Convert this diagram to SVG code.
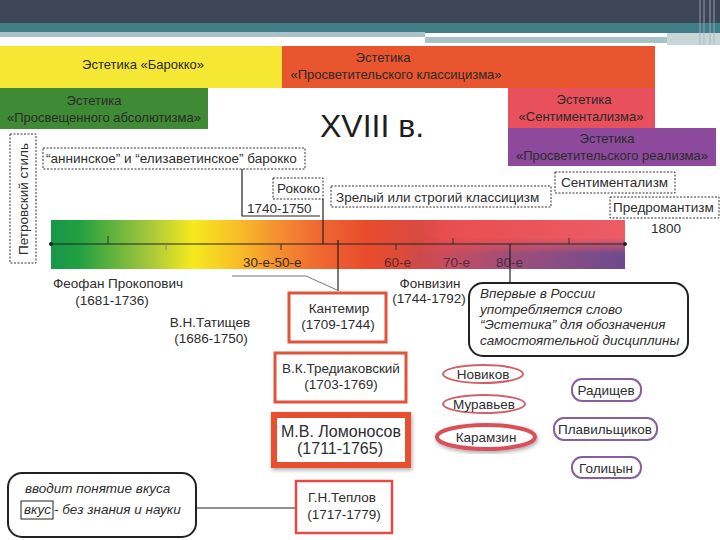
<svg xmlns="http://www.w3.org/2000/svg" width="720" height="540" viewBox="0 0 720 540">
<style>
text{font-family:"Liberation Sans",Arial,sans-serif;fill:#2e2e2e}
.hd{font-size:13px;text-anchor:middle;fill:#2a2a2a}
.lb{font-size:13.5px}
.mid{text-anchor:middle}
.it{font-style:italic;font-size:13.5px}
.dash{fill:none;stroke:#333;stroke-width:1;stroke-dasharray:2 1.5}
.ln{stroke:#222;stroke-width:1.2;fill:none}
.thin{stroke:#777;stroke-width:1;fill:none}
.rbox{fill:#fff;stroke:#e0553a;stroke-width:3}
.ell{fill:#fff;stroke:#d0606a;stroke-width:2}
.pur{fill:#fff;stroke:#8a5e9e;stroke-width:2}
.rr{fill:#fff;stroke:#222;stroke-width:2}
</style>
<defs>
<linearGradient id="bar" x1="51" y1="0" x2="625" y2="0" gradientUnits="userSpaceOnUse">
<stop offset="0" stop-color="#16974a"/>
<stop offset="0.05" stop-color="#22a040"/>
<stop offset="0.172" stop-color="#a6c83a"/>
<stop offset="0.247" stop-color="#f6ea1e"/>
<stop offset="0.328" stop-color="#f8bc28"/>
<stop offset="0.394" stop-color="#f59030"/>
<stop offset="0.462" stop-color="#f06a32"/>
<stop offset="0.549" stop-color="#e84c2c"/>
<stop offset="0.643" stop-color="#d94a42"/>
<stop offset="0.686" stop-color="#e84e4e"/>
<stop offset="1" stop-color="#ec5c66"/>
</linearGradient>
<linearGradient id="purp" x1="400" y1="0" x2="625" y2="0" gradientUnits="userSpaceOnUse">
<stop offset="0" stop-color="#6c4a8e" stop-opacity="0"/>
<stop offset="0.24" stop-color="#6c4a8e" stop-opacity="0.3"/>
<stop offset="0.49" stop-color="#6c4a8e" stop-opacity="0.6"/>
<stop offset="1" stop-color="#6c4a8e" stop-opacity="1"/>
</linearGradient>
<linearGradient id="vfade" x1="0" y1="238" x2="0" y2="254" gradientUnits="userSpaceOnUse">
<stop offset="0" stop-color="#000"/>
<stop offset="1" stop-color="#fff"/>
</linearGradient>
<mask id="lower"><rect x="380" y="230" width="260" height="45" fill="url(#vfade)"/></mask>
<filter id="sh" x="-20%" y="-20%" width="140%" height="140%">
<feGaussianBlur in="SourceAlpha" stdDeviation="2"/>
<feOffset dx="1" dy="2"/>
<feComponentTransfer><feFuncA type="linear" slope="0.35"/></feComponentTransfer>
<feMerge><feMergeNode/><feMergeNode in="SourceGraphic"/></feMerge>
</filter>
</defs>
<rect width="720" height="540" fill="#fff"/>
<g id="header">
<rect x="0" y="0" width="720" height="24" fill="#3e4557"/>
<rect x="0" y="23" width="720" height="10" fill="#3f7e87"/>
<rect x="0" y="32" width="425" height="5" fill="#a7c2c9"/>
<rect x="425" y="37" width="242" height="6" fill="#a7c2c9"/>
<rect x="667" y="33" width="53" height="12" fill="#c8d6da"/>
<g stroke="#a9b1c0" stroke-width="1" opacity="0.8">
<line x1="700" y1="0" x2="700" y2="45"/><line x1="704" y1="0" x2="704" y2="45"/>
<line x1="710" y1="0" x2="710" y2="45"/><line x1="714" y1="0" x2="714" y2="45"/>
</g>
</g>
<g id="baroque">
<rect x="0" y="46" width="282" height="42" fill="#f6e735"/>
<text class="hd" x="143" y="69">Эстетика «Барокко»</text>
</g>
<g id="classicism">
<rect x="282" y="46" width="373" height="42" fill="#e8552e"/>
<text class="hd" x="383" y="62">Эстетика</text>
<text class="hd" x="396" y="79">«Просветительского классицизма»</text>
</g>
<g id="absolutism">
<rect x="0" y="88" width="208" height="41" fill="#3f8a35"/>
<text class="hd" x="94" y="105">Эстетика</text>
<text class="hd" x="104" y="122">«Просвещенного абсолютизма»</text>
</g>
<g id="sentimentalism-aesthetic">
<rect x="508" y="88" width="147" height="40" fill="#e8505c"/>
<text class="hd" x="584" y="104">Эстетика</text>
<text class="hd" x="581" y="121">«Сентиментализма»</text>
</g>
<g id="realism">
<rect x="508" y="128" width="208" height="38" fill="#8d4a9c"/>
<text class="hd" x="607" y="143">Эстетика</text>
<text class="hd" x="612" y="160">«Просветительского реализма»</text>
</g>
<g id="century">
<text x="320" y="137" style="font-size:32px;fill:#1e1e1e">XVIII в.</text>
</g>
<g id="petrovsky">
<rect class="dash" x="10" y="134" width="26" height="129"/>
<text class="lb mid" transform="translate(28 199) rotate(-90)">Петровский стиль</text>
</g>
<g id="anna-baroque">
<rect class="dash" x="43" y="148" width="262" height="21"/>
<text class="lb" x="46" y="163">“аннинское” и “елизаветинское” барокко</text>
</g>
<g id="rococo">
<rect class="dash" x="273" y="178" width="50" height="21"/>
<text class="lb" x="277" y="193">Рококо</text>
</g>
<g id="mature-classicism">
<rect class="dash" x="331" y="186" width="220" height="21"/>
<text class="lb" x="336" y="202">Зрелый или строгий классицизм</text>
</g>
<g id="sentimentalism">
<rect class="dash" x="555" y="172" width="120" height="21"/>
<text class="lb" x="561" y="187">Сентиментализм</text>
</g>
<g id="preromanticism">
<rect class="dash" x="610" y="197" width="109" height="21"/>
<text class="lb" x="613" y="212">Предромантизм</text>
</g>
<g id="timeline">
<rect x="51" y="220" width="574" height="49" fill="url(#bar)"/>
<rect x="400" y="230" width="225" height="39" fill="url(#purp)" mask="url(#lower)"/>
<line x1="51" y1="244" x2="625" y2="244" stroke="#222" stroke-width="1.2"/>
<circle cx="51" cy="244" r="2" fill="#222"/>
<circle cx="625" cy="244" r="2" fill="#222"/>
<g stroke="#333" stroke-width="1">
<line x1="108" y1="236" x2="108" y2="244"/>
<line x1="166" y1="244" x2="166" y2="250" stroke="#888"/>
<line x1="281" y1="244" x2="281" y2="250"/>
<line x1="396" y1="244" x2="396" y2="250"/>
<line x1="453" y1="238" x2="453" y2="244"/>
<line x1="569" y1="238" x2="569" y2="244"/>
</g>
<text class="lb" x="243" y="267" style="fill:#3a2a1a">30-е-50-е</text>
<text class="lb" x="384" y="267" style="fill:#5a2a2a">60-е</text>
<text class="lb" x="443" y="267" style="fill:#5a2a3a">70-е</text>
<text class="lb" x="496" y="267" style="fill:#4a2a4a">80-е</text>
<text class="lb" x="651" y="233">1800</text>
<text class="lb" x="247" y="213">1740-1750</text>
</g>
<g id="connectors">
<polyline class="ln" points="242,169 242,216 320,216"/>
<line class="ln" x1="323" y1="199" x2="323" y2="244"/>
<line class="ln" x1="338" y1="240" x2="338" y2="291"/>
<line class="ln" x1="510" y1="244" x2="510" y2="283"/>
<polyline class="thin" points="232,276 306,276 337,290"/>
<line class="ln" x1="196" y1="508" x2="295" y2="508"/>
</g>
<g id="prokopovich">
<text class="lb mid" x="118" y="288">Феофан Прокопович</text>
<text class="lb mid" x="112" y="305">(1681-1736)</text>
</g>
<g id="tatishchev">
<text class="lb mid" x="210" y="327">В.Н.Татищев</text>
<text class="lb mid" x="211" y="343">(1686-1750)</text>
</g>
<g id="fonvizin">
<text class="lb mid" x="430" y="288">Фонвизин</text>
<text class="lb mid" x="429" y="303">(1744-1792)</text>
</g>
<g id="kantemir">
<rect class="rbox" x="289" y="293" width="97" height="49"/>
<text class="lb mid" x="339" y="313">Кантемир</text>
<text class="lb mid" x="338" y="329">(1709-1744)</text>
</g>
<g id="note-aesthetics">
<rect class="rr" x="469" y="283" width="219" height="73" rx="14"/>
<text class="it" x="480" y="298">Впервые в России</text>
<text class="it" x="480" y="314">употребляется слово</text>
<text class="it" x="480" y="329">“Эстетика” для обозначения</text>
<text class="it" x="480" y="345">самостоятельной дисциплины</text>
</g>
<g id="trediakovsky">
<rect class="rbox" x="275" y="353" width="131" height="49"/>
<text class="lb mid" x="341" y="373">В.К.Тредиаковский</text>
<text class="lb mid" x="341" y="389">(1703-1769)</text>
</g>
<g id="lomonosov">
<rect x="274" y="415" width="134" height="50" fill="#fff" stroke="#e8502e" stroke-width="6" filter="url(#sh)"/>
<text class="mid" x="341" y="437" style="font-size:16px">М.В. Ломоносов</text>
<text class="mid" x="340" y="454" style="font-size:16px">(1711-1765)</text>
</g>
<g id="teplov">
<rect x="296" y="481" width="96" height="52" fill="#fff" stroke="#e84848" stroke-width="2.5"/>
<text class="lb mid" x="342" y="502">Г.Н.Теплов</text>
<text class="lb mid" x="344" y="519">(1717-1779)</text>
</g>
<g id="note-taste">
<rect class="rr" x="8" y="473" width="188" height="64" rx="14"/>
<text class="it" x="25" y="493">вводит понятие вкуса</text>
<rect x="21" y="501" width="32" height="18" fill="none" stroke="#222" stroke-width="1"/>
<text class="it" x="24" y="514">вкус</text>
<text class="it" x="54" y="514">- без знания и науки</text>
</g>
<g id="novikov">
<ellipse class="ell" cx="483" cy="374" rx="40" ry="9"/>
<text class="lb mid" x="483" y="379">Новиков</text>
</g>
<g id="muravyev">
<ellipse class="ell" cx="484" cy="404" rx="41" ry="9"/>
<text class="lb mid" x="484" y="409">Муравьев</text>
</g>
<g id="karamzin">
<ellipse cx="486" cy="437" rx="49" ry="12" fill="#fff" stroke="#d9505a" stroke-width="4" filter="url(#sh)"/>
<text class="lb mid" x="486" y="442">Карамзин</text>
</g>
<g id="radishchev">
<rect class="pur" x="572" y="379" width="69" height="22" rx="10"/>
<text class="lb mid" x="606" y="395">Радищев</text>
</g>
<g id="plavilshchikov">
<rect class="pur" x="554" y="418" width="103" height="22" rx="10"/>
<text class="lb mid" x="605" y="434">Плавильщиков</text>
</g>
<g id="golitsyn">
<rect class="pur" x="572" y="457" width="69" height="21" rx="10"/>
<text class="lb mid" x="606" y="473">Голицын</text>
</g>
</svg>
